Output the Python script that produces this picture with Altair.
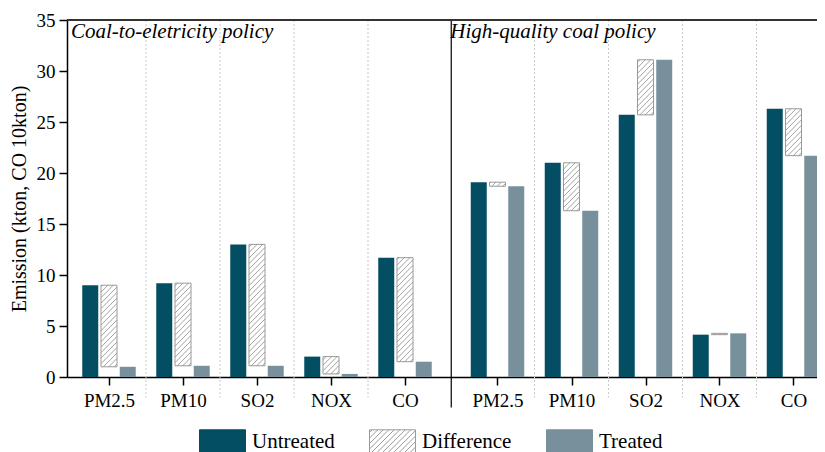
import altair as alt
import pandas as pd

# ---------------- data ----------------
pollutants = ["PM2.5", "PM10", "SO2", "NOX", "CO"]
policy_titles = ["Coal-to-eletricity policy", "High-quality coal policy"]
untreated_c2e = [9.0, 9.2, 13.0, 2.0, 11.7]
treated_c2e = [1.0, 1.1, 1.1, 0.3, 1.5]
untreated_hq = [19.1, 21.0, 25.7, 4.15, 26.3]
treated_hq = [18.7, 16.3, 31.1, 4.28, 21.7]
series_names = ["Untreated", "Difference", "Treated"]
y_ticks = [0, 5, 10, 15, 20, 25, 30, 35]

# ---------------- style / layout ----------------
C_UNT = "#034e63"
C_TRT = "#78909c"
C_DIFF_STROKE = "#9a9a9a"
FONT = "Times New Roman, Liberation Serif, serif"
W, H = 750, 357
X_MIN, X_MAX = -0.5, 9.5
Y_MAX = 35
PANEL_GAP = 0.25
KX = W / (X_MAX - X_MIN)   # px per x unit
KY = H / Y_MAX             # px per y unit
BAR_PX = 16
STEP_PX = 19
HATCH_PX = 5.5

rows = []
for p, (unt, trt) in enumerate([(untreated_c2e, treated_c2e), (untreated_hq, treated_hq)]):
    for i, name in enumerate(pollutants):
        rows.append(dict(policy=policy_titles[p], pollutant=name,
                         pos=i + p * (5 + PANEL_GAP), untreated=unt[i], treated=trt[i]))
df = pd.DataFrame(rows)

# hatch segments inside each difference bar (derived from the values)
hatch = []
for r in rows:
    lo, hi = min(r["untreated"], r["treated"]), max(r["untreated"], r["treated"])
    h = (hi - lo) * KY
    c = -BAR_PX + HATCH_PX / 2
    while c < h:
        u0, u1 = max(0.0, -c), min(float(BAR_PX), h - c)
        if u1 > u0:
            hatch.append(dict(x=r["pos"] + (u0 - BAR_PX / 2) / KX,
                              x2=r["pos"] + (u1 - BAR_PX / 2) / KX,
                              y=lo + (u0 + c) / KY, y2=lo + (u1 + c) / KY))
        c += HATCH_PX
hatch_df = pd.DataFrame(hatch)

mid_pos = [(i + 0.5) for i in range(4)] + [(i + 0.5 + 5 + PANEL_GAP) for i in range(4)]
sep_df = pd.DataFrame({"x": mid_pos})
split_df = pd.DataFrame({"x": [4 + 0.5 + PANEL_GAP / 2]})
ann_df = pd.DataFrame({"x": [X_MIN, 4 + 0.5 + PANEL_GAP / 2], "text": policy_titles})

# legend symbol paths (normalized [-1,1])
RECT = "M-1,-0.52H1V0.52H-1Z"
hs = HATCH_PX / 23.0
segs = []
c = -1.52 + hs / 2
while c < 1.52:
    a, b = max(-1.0, c - 0.52), min(1.0, c + 0.52)
    if b > a:
        segs.append(f"M{a:.3f},{c - a:.3f}L{b:.3f},{c - b:.3f}")
    c += hs
HATCH_RECT = RECT + "".join(segs)

xscale = alt.Scale(domain=[X_MIN, X_MAX], nice=False, zero=False)
yscale = alt.Scale(domain=[0, Y_MAX], nice=False)
label_expr = "[" + ",".join(f"'{p}'" for p in pollutants) + "][floor(datum.value) % 5]"
xaxis = alt.Axis(values=[r["pos"] for r in rows], labelExpr=label_expr, title=None,
                 grid=False, tickSize=8, labelPadding=6)
yaxis = alt.Axis(values=y_ticks, title="Emission (kton, CO 10kton)", grid=False,
                 tickSize=8, labelPadding=4, titlePadding=7)


def X(field, **kw):
    return alt.X(field, type="quantitative", scale=xscale, axis=xaxis, **kw)


def Y(field, **kw):
    return alt.Y(field, type="quantitative", scale=yscale, axis=yaxis, **kw)


base = alt.Chart(df)

untreated = base.transform_calculate(xb=f"datum.pos - {STEP_PX / KX}").mark_bar(
    orient="vertical", size=BAR_PX, color=C_UNT).encode(
    x=X("xb"), y=Y("untreated"), y2=alt.datum(0))

treated = base.transform_calculate(xb=f"datum.pos + {STEP_PX / KX}").mark_bar(
    orient="vertical", size=BAR_PX, color=C_TRT).encode(
    x=X("xb"), y=Y("treated"), y2=alt.datum(0))

diff = base.mark_bar(orient="vertical", size=BAR_PX, fill="white",
                     stroke=C_DIFF_STROKE, strokeWidth=1).encode(
    x=X("pos"), y=Y("treated"), y2="untreated")

hatch_layer = alt.Chart(hatch_df).mark_rule(color="#8a8a8a", strokeWidth=0.8).encode(
    x=X("x"), x2="x2", y=Y("y"), y2="y2")

seps = alt.Chart(sep_df).mark_rule(color="#c8c8c8", strokeWidth=1, strokeDash=[2, 2]).encode(
    x=X("x"), y=alt.Y(datum=Y_MAX, scale=yscale, axis=yaxis), y2=alt.datum(-2))

split = alt.Chart(split_df).mark_rule(color="black", strokeWidth=1.2).encode(
    x=X("x"), y=alt.Y(datum=Y_MAX, scale=yscale, axis=yaxis), y2=alt.datum(-3))

top_line = alt.Chart(split_df).mark_rule(color="#333333", strokeWidth=2).encode(
    y=alt.Y(datum=Y_MAX, scale=yscale, axis=yaxis))

ann = alt.Chart(ann_df).mark_text(font=FONT, fontStyle="italic", fontSize=21, align="left",
                                  baseline="alphabetic", dx=-1, dy=18, color="black").encode(
    x=X("x"), y=alt.Y(datum=Y_MAX, scale=yscale, axis=yaxis), text="text:N")

leg = alt.Legend(orient="none", legendX=132, legendY=398, direction="horizontal", title=None,
                 symbolSize=2116, symbolStrokeWidth=1, symbolOpacity=1,
                 labelFont=FONT, labelFontSize=21, labelColor="black",
                 labelOffset=6, columnPadding=32, padding=0)
legend_df = pd.DataFrame({"series": series_names, "v": [0, 0, 0]})
legend_layer = alt.Chart(legend_df).transform_filter("false").mark_point(filled=True).encode(
    x=X("v"), y=Y("v"),
    fill=alt.Fill("series:N", scale=alt.Scale(domain=series_names,
                                              range=[C_UNT, "#ffffff", C_TRT]), legend=leg),
    stroke=alt.Stroke("series:N", scale=alt.Scale(domain=series_names,
                                                  range=[C_UNT, C_DIFF_STROKE, C_TRT]), legend=leg),
    shape=alt.Shape("series:N", scale=alt.Scale(domain=series_names,
                                                range=[RECT, HATCH_RECT, RECT]), legend=leg),
)

chart = alt.layer(seps, split, untreated, diff, hatch_layer, treated, top_line, ann,
                  legend_layer).properties(
    width=W, height=H,
    autosize=alt.AutoSizeParams(type="none"),
    padding={"left": 59, "top": 12, "right": 0, "bottom": 75},
).configure_view(strokeWidth=0).configure_axis(
    labelFont=FONT, labelFontSize=19, labelColor="black",
    titleFont=FONT, titleFontSize=20, titleFontWeight="normal", titleColor="black",
    domainColor="black", domainWidth=1.5, tickColor="black", tickWidth=1.5,
)

chart.save("out.html", embed_options={"renderer": "svg", "actions": False})
